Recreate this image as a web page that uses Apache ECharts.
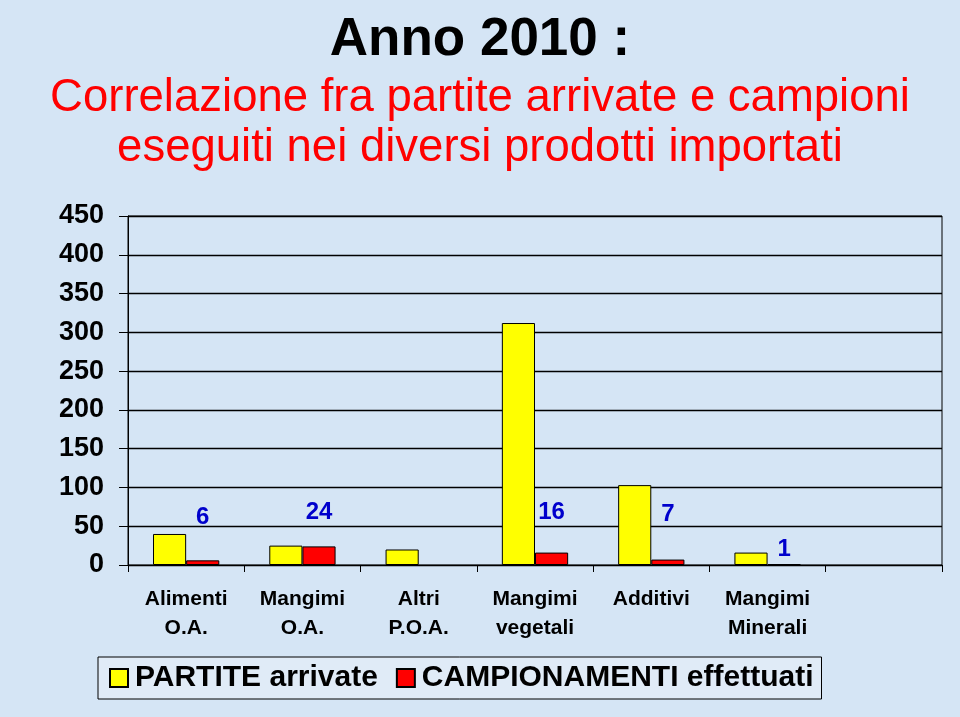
<!DOCTYPE html>
<html>
<head>
<meta charset="utf-8">
<script src="https://cdn.jsdelivr.net/npm/echarts@6/dist/echarts.min.js"></script>
<style>
html,body{margin:0;padding:0;background:#d5e5f5;}
#chart{width:960px;height:717px;}
</style>
</head>
<body>
<div id="chart"></div>
<script>
const categories = ['Alimenti\nO.A.', 'Mangimi\nO.A.', 'Altri\nP.O.A.', 'Mangimi\nvegetali', 'Additivi', 'Mangimi\nMinerali', ''];
const partiteArrivate = [40, 25, 20, 312, 103, 16, '-'];
const campionamenti = [6, 24, '-', 16, 7, 1, '-'];
const yTicks = [0, 50, 100, 150, 200, 250, 300, 350, 400, 450];
const seriesNames = ['PARTITE arrivate', 'CAMPIONAMENTI effettuati'];
const labelLift = [31, 22, 0, 28, 33, 3];

const FONT = '"Liberation Sans", Arial, Helvetica, sans-serif';
const chart = echarts.init(document.getElementById('chart'), null, {renderer: 'canvas'});

const redData = campionamenti.map((v, i) => ({
  value: v,
  label: {distance: labelLift[i]}
}));

chart.setOption({
  backgroundColor: '#d5e5f5',
  animation: false,
  title: [
    {
      text: 'Anno 2010 :',
      left: 'center',
      top: 9,
      textStyle: {fontFamily: FONT, fontSize: 53, fontWeight: 'bold', color: '#000'}
    },
    {
      text: 'Correlazione fra partite arrivate e campioni\neseguiti nei diversi prodotti importati',
      left: 'center',
      top: 68,
      textStyle: {fontFamily: FONT, fontSize: 45.5, fontWeight: 'normal', color: '#ff0000', lineHeight: 50}
    }
  ],
  legend: {
    data: seriesNames,
    left: 98,
    top: 657,
    padding: [6, 8, 6, 11],
    itemGap: 18,
    itemWidth: 18,
    itemHeight: 18,
    backgroundColor: 'rgba(235,242,250,0.5)',
    borderColor: '#000',
    borderWidth: 1,
    icon: 'rect',
    textStyle: {fontFamily: FONT, fontSize: 30, fontWeight: 'bold', color: '#000', padding: [0, 0, 0, 2]}
  },
  grid: {
    left: 128,
    right: 18,
    top: 216,
    bottom: 152,
    show: true,
    borderColor: '#000',
    borderWidth: 1,
    backgroundColor: 'transparent'
  },
  xAxis: {
    type: 'category',
    data: categories,
    axisLine: {lineStyle: {color: '#000', width: 1}},
    axisTick: {show: true, length: 7, lineStyle: {color: '#000'}},
    axisLabel: {
      fontFamily: FONT, fontSize: 21, fontWeight: 'bold', color: '#000',
      lineHeight: 29, margin: 20, interval: 0
    }
  },
  yAxis: {
    type: 'value',
    min: 0,
    max: 450,
    interval: 50,
    axisLine: {show: true, lineStyle: {color: '#000', width: 1}},
    axisTick: {show: true, length: 9, lineStyle: {color: '#000'}},
    splitLine: {show: true, lineStyle: {color: '#000', width: 1.4}},
    axisLabel: {
      fontFamily: FONT, fontSize: 27, fontWeight: 'bold', color: '#000', margin: 24,
      formatter: v => yTicks.includes(v) ? String(v) : ''
    }
  },
  series: [
    {
      name: seriesNames[0],
      type: 'bar',
      data: partiteArrivate,
      barGap: '0%',
      barCategoryGap: '43%',
      itemStyle: {color: '#ffff00', borderColor: '#000', borderWidth: 1}
    },
    {
      name: seriesNames[1],
      type: 'bar',
      data: redData,
      itemStyle: {color: '#ff0000', borderColor: '#000', borderWidth: 1},
      label: {
        show: true,
        position: 'top',
        fontFamily: FONT,
        fontSize: 24,
        fontWeight: 'bold',
        color: '#0000cc',
        formatter: p => (p.value ? String(p.value) : '')
      }
    }
  ]
});
</script>
</body>
</html>
